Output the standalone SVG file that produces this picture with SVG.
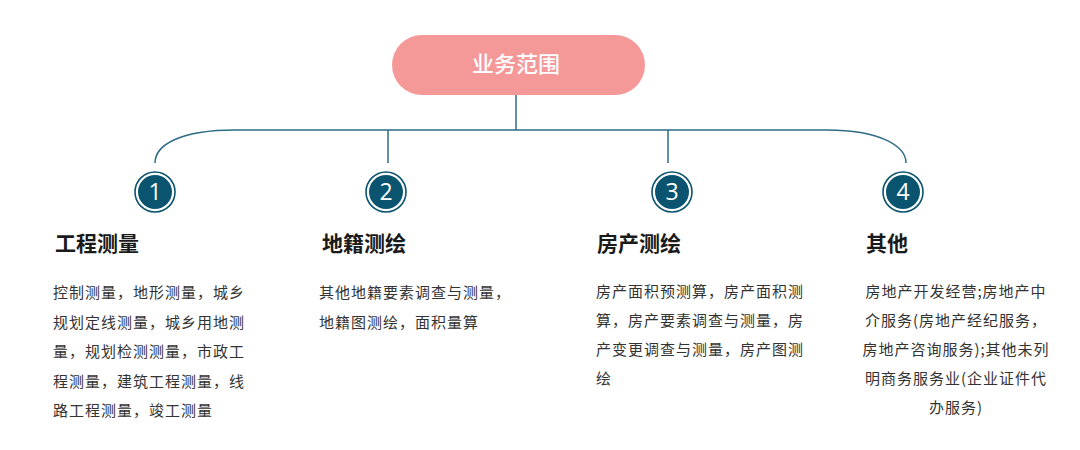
<svg xmlns="http://www.w3.org/2000/svg" width="1080" height="450" viewBox="0 0 1080 450">
<style>
.title{font-family:"Noto Sans CJK SC","Liberation Sans",sans-serif;font-size:21px;font-weight:bold;fill:#1a1a1a}
.body{font-family:"Noto Sans CJK SC","Liberation Sans",sans-serif;font-size:15px;fill:#333;letter-spacing:1px}
.conn{fill:none;stroke:#2e6b86;stroke-width:1.5}
.ring{fill:none;stroke:#0b5470;stroke-width:1.6}
.disc{fill:#0b5470}
.num{font-family:"Open Sans","Liberation Sans",sans-serif;font-size:23px;fill:#fff;text-anchor:middle}
</style>
<rect width="1080" height="450" fill="#fff"/>
<g id="connectors">
<path class="conn" d="M516 95 V130"/>
<path class="conn" d="M155 163 C155 145 180 130 235 130 H827 C880 130 906 146 906 163"/>
<path class="conn" d="M388 130 V163"/>
<path class="conn" d="M668 130 V163"/>
</g>
<g id="root">
<rect x="392" y="35" width="253" height="60" rx="30" fill="#f59898"/>
<text x="516" y="72" font-family="Noto Sans CJK SC,sans-serif" font-size="22" font-weight="500" fill="#fff" text-anchor="middle">业务范围</text>
</g>
<g id="n1">
<circle class="ring" cx="155" cy="192" r="20"/><circle class="disc" cx="155" cy="192" r="17"/>
<text class="num" x="155" y="200">1</text>
<text class="title" x="55" y="251">工程测量</text>
<text class="body" x="53" y="298">控制测量，地形测量，城乡</text>
<text class="body" x="53" y="327.5">规划定线测量，城乡用地测</text>
<text class="body" x="53" y="357">量，规划检测测量，市政工</text>
<text class="body" x="53" y="386.5">程测量，建筑工程测量，线</text>
<text class="body" x="53" y="416">路工程测量，竣工测量</text>
</g>
<g id="n2">
<circle class="ring" cx="386" cy="192" r="20"/><circle class="disc" cx="386" cy="192" r="17"/>
<text class="num" x="386" y="200">2</text>
<text class="title" x="322" y="251">地籍测绘</text>
<text class="body" x="319" y="298">其他地籍要素调查与测量，</text>
<text class="body" x="319" y="327.5">地籍图测绘，面积量算</text>
</g>
<g id="n3">
<circle class="ring" cx="672" cy="192" r="20"/><circle class="disc" cx="672" cy="192" r="17"/>
<text class="num" x="672" y="200">3</text>
<text class="title" x="597" y="251">房产测绘</text>
<text class="body" x="596" y="297">房产面积预测算，房产面积测</text>
<text class="body" x="596" y="326">算，房产要素调查与测量，房</text>
<text class="body" x="596" y="355">产变更调查与测量，房产图测</text>
<text class="body" x="596" y="384">绘</text>
</g>
<g id="n4">
<circle class="ring" cx="903" cy="192" r="20"/><circle class="disc" cx="903" cy="192" r="17"/>
<text class="num" x="903" y="200">4</text>
<text class="title" x="866" y="251">其他</text>
<g text-anchor="middle">
<text class="body" x="956" y="297">房地产开发经营;房地产中</text>
<text class="body" x="956" y="326">介服务(房地产经纪服务，</text>
<text class="body" x="956" y="355">房地产咨询服务);其他未列</text>
<text class="body" x="956" y="384">明商务服务业(企业证件代</text>
<text class="body" x="956" y="413">办服务)</text>
</g>
</g>
</svg>
